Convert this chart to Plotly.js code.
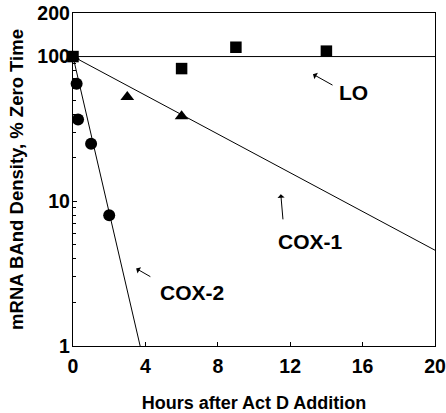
<!DOCTYPE html>
<html>
<head>
<meta charset="utf-8">
<script src="https://cdn.plot.ly/plotly-3.0.1.min.js"></script>
<style>html,body{margin:0;padding:0;background:#fff;}</style>
</head>
<body>
<div id="chart" style="width:446px;height:413px;"></div>
<script>
// Measured points
const loX = [0, 6, 9, 14];
const loY = [100, 82.6, 116, 109];
const cox1X = [0, 3, 6];
const cox1Y = [100, 52.6, 38.7];
const cox2X = [0.2, 0.28, 1, 2];
const cox2Y = [65, 36.7, 25, 8.0];
// Fitted decay lines
const loFitX = [0, 20];
const loFitY = [100, 100];
const cox1FitX = [0, 20];
const cox1FitY = [100, 4.59];
const cox2FitX = [0, 3.71];
const cox2FitY = [100, 1];
// Ticks
const xTicks = [0, 4, 8, 12, 16, 20];
const yTicks = [1, 10, 100, 200];
const yTickText = ['1', '10', '100', '200'];
const yMinor = [2,3,4,5,6,7,8,9,20,30,40,50,60,70,80,90];

const FONT = 'Liberation Sans, Arial, Helvetica, sans-serif';
const lineStyle = {color: '#000', width: 1};

const traces = [
  {x: loFitX, y: loFitY, mode: 'lines', line: lineStyle, cliponaxis: false},
  {x: cox1FitX, y: cox1FitY, mode: 'lines', line: lineStyle},
  {x: cox2FitX, y: cox2FitY, mode: 'lines', line: lineStyle},
  {x: cox1X, y: cox1Y, mode: 'markers', marker: {symbol: 'triangle-up', size: 12, color: '#000'}, cliponaxis: false},
  {x: cox2X, y: cox2Y, mode: 'markers', marker: {symbol: 'circle', size: 12, color: '#000'}, cliponaxis: false},
  {x: loX, y: loY, mode: 'markers', marker: {symbol: 'square', size: 11.5, color: '#000'}, cliponaxis: false}
];

const annFont = {family: FONT, size: 21, color: '#000', weight: 'bold'};
const arrow = {showarrow: true, arrowhead: 1, arrowsize: 1.2, arrowwidth: 1, arrowcolor: '#000', text: '', standoff: 0, startstandoff: 0};

const layout = {
  width: 446, height: 413,
  margin: {l: 72.7, r: 11, t: 12.7, b: 67.3},
  paper_bgcolor: '#fff', plot_bgcolor: '#fff',
  showlegend: false,
  font: {family: FONT, color: '#000'},
  xaxis: {
    range: [0, 20], tickvals: xTicks, ticks: 'inside', ticklen: 4, tickcolor: '#000',
    showline: true, linecolor: '#000', linewidth: 1.2, mirror: true, showgrid: false, zeroline: false,
    tickfont: {family: FONT, size: 19.5, weight: 'bold', color: '#000'},
    ticklabelstandoff: 2,
    title: {text: 'Hours after Act D Addition', font: {family: FONT, size: 18, weight: 'bold', color: '#000'}, standoff: 23}
  },
  yaxis: {
    type: 'log', range: [0, Math.log10(200)], tickvals: yTicks, ticktext: yTickText,
    ticks: 'inside', ticklen: 4, tickcolor: '#000',
    minor: {tickvals: yMinor, ticks: 'inside', ticklen: 3, tickcolor: '#000', showgrid: false},
    showline: true, linecolor: '#000', linewidth: 1.2, mirror: true, showgrid: false, zeroline: false,
    tickfont: {family: FONT, size: 19.5, weight: 'bold', color: '#000'},
    ticklabelstandoff: -2,
    title: {text: 'mRNA BAnd Density, % Zero Time', font: {family: FONT, size: 18.5, weight: 'bold', color: '#000'}, standoff: 8}
  },
  annotations: [
    Object.assign({x: 13.26, y: Math.log10(75.5), ax: 21, ay: 11.7}, arrow),
    Object.assign({x: 11.48, y: Math.log10(11.2), ax: 2.3, ay: 26.7}, arrow),
    Object.assign({x: 3.49, y: Math.log10(3.43), ax: 15.7, ay: 9}, arrow),
    {x: 15.5, y: Math.log10(56.6), text: 'LO', showarrow: false, font: annFont},
    {x: 13.1, y: Math.log10(5.31), text: 'COX-1', showarrow: false, font: annFont},
    {x: 6.56, y: Math.log10(2.36), text: 'COX-2', showarrow: false, font: annFont}
  ]
};

Plotly.newPlot('chart', traces, layout, {displayModeBar: false, staticPlot: true});
</script>
</body>
</html>
